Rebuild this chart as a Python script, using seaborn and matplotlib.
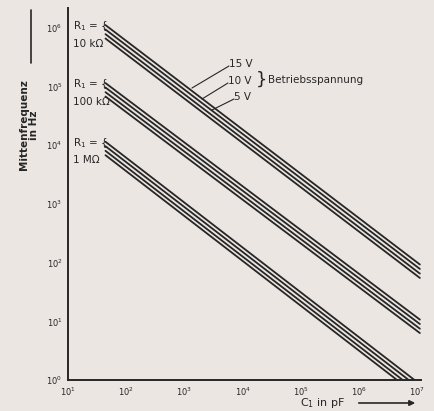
import numpy as np
import pandas as pd
import matplotlib
matplotlib.use("Agg")
import matplotlib.pyplot as plt
import seaborn as sns

# ---- data ----
capacitance_pF = [44, 1.1e7]                 # start / end of each line (C1 in pF)
resistors = ["10 kΩ", "100 kΩ", "1 MΩ"]
top_line_f = {                               # frequency (Hz) of upper line at start / end
    "10 kΩ": [1.12e6, 93.0],
    "100 kΩ": [1.15e5, 10.7],
    "1 MΩ": [1.15e4, 0.85],
}
line_factors = [1.0, 0.84, 0.70, 0.59]        # the parallel lines of each bundle
voltages = ["15 V", "10 V", "5 V"]
x_ticks = [1e1, 1e2, 1e3, 1e4, 1e5, 1e6, 1e7]
x_tick_labels = [r"$10^{%d}$" % i for i in range(1, 8)]
y_ticks = [1e0, 1e1, 1e2, 1e3, 1e4, 1e5, 1e6]
y_tick_labels = [r"$10^{%d}$" % i for i in range(0, 7)]

rows = []
for r in resistors:
    for k, fac in enumerate(line_factors):
        for c, f in zip(capacitance_pF, top_line_f[r]):
            rows.append({"C": c, "f": f * fac, "line": f"{r}-{k}"})
df = pd.DataFrame(rows)

sns.set_style("white")
plt.rcParams["font.family"] = ["DejaVu Sans"]
bg = "#ece6e3"
ink = "#262626"

fig = plt.figure(figsize=(4.35, 4.11), dpi=100, facecolor=bg)
ax = fig.add_axes([68 / 435, 1 - 380 / 411, (421 - 68) / 435, (380 - 8) / 411])
ax.set_facecolor(bg)

sns.lineplot(data=df, x="C", y="f", hue="line", units=None, estimator=None,
             palette=[ink] * df["line"].nunique(), legend=False, linewidth=1.3, ax=ax)

ax.set_xscale("log")
ax.set_yscale("log")
ax.set_xlim(10, 1.15e7)
ax.set_ylim(1, 10 ** 6.34)
ax.set_xticks(x_ticks)
ax.set_xticklabels(x_tick_labels, fontsize=6, color=ink)
ax.set_yticks(y_ticks)
ax.set_yticklabels(y_tick_labels, fontsize=6, color=ink)
ax.minorticks_off()
ax.tick_params(axis="both", direction="inout", length=4, width=1, colors=ink, pad=2)
for s in ["top", "right"]:
    ax.spines[s].set_visible(False)
for s in ["left", "bottom"]:
    ax.spines[s].set_color(ink)
    ax.spines[s].set_linewidth(1.4)
ax.set_xlabel("")
ax.set_ylabel("")

# resistor labels
for r, f in zip(resistors, top_line_f.values()):
    ax.text(12.3, f[0] * 0.95, "R$_1$ = {", fontsize=7.5, color=ink, va="center", ha="left")
    ax.text(12.3, f[0] * 0.48, r, fontsize=7.5, color=ink, va="center", ha="left")

# voltage labels with leaders (figure pixel coords)
def px(x, y):
    return (x / 435, 1 - y / 411)

lbl_pos = [(229, 64), (228, 81), (234, 97)]
tips = [(192, 88), (202, 99), (212, 110)]
for v, p, t in zip(voltages, lbl_pos, tips):
    fig.text(*px(*p), v, fontsize=7.5, color=ink, ha="left", va="center")
    fig.add_artist(plt.Line2D([p[0] / 435, t[0] / 435], [1 - (p[1] + 2) / 411, 1 - t[1] / 411],
                              color=ink, lw=0.8, transform=fig.transFigure))
fig.text(*px(256, 80), "}", fontsize=13, color=ink, ha="left", va="center")
fig.text(*px(268, 80), "Betriebsspannung", fontsize=7.5, color=ink, ha="left", va="center")

# axis titles
fig.text(*px(29, 125), "Mittenfrequenz\nin Hz", rotation=90, fontsize=7.5,
         fontweight="bold", color=ink, ha="center", va="center", linespacing=1.1)
fig.add_artist(plt.Line2D([31 / 435, 31 / 435], [1 - 63 / 411, 1 - 10 / 411],
                          color=ink, lw=1.2, transform=fig.transFigure))
fig.text(*px(300, 403), "C$_1$ in pF", fontsize=8, color=ink, ha="left", va="center")
ax.annotate("", xy=px(418, 403), xytext=px(356, 403), xycoords="figure fraction",
            textcoords="figure fraction",
            arrowprops=dict(arrowstyle="-|>", color=ink, lw=1.2, mutation_scale=8))

fig.savefig("out.png", dpi=100, facecolor=bg)
